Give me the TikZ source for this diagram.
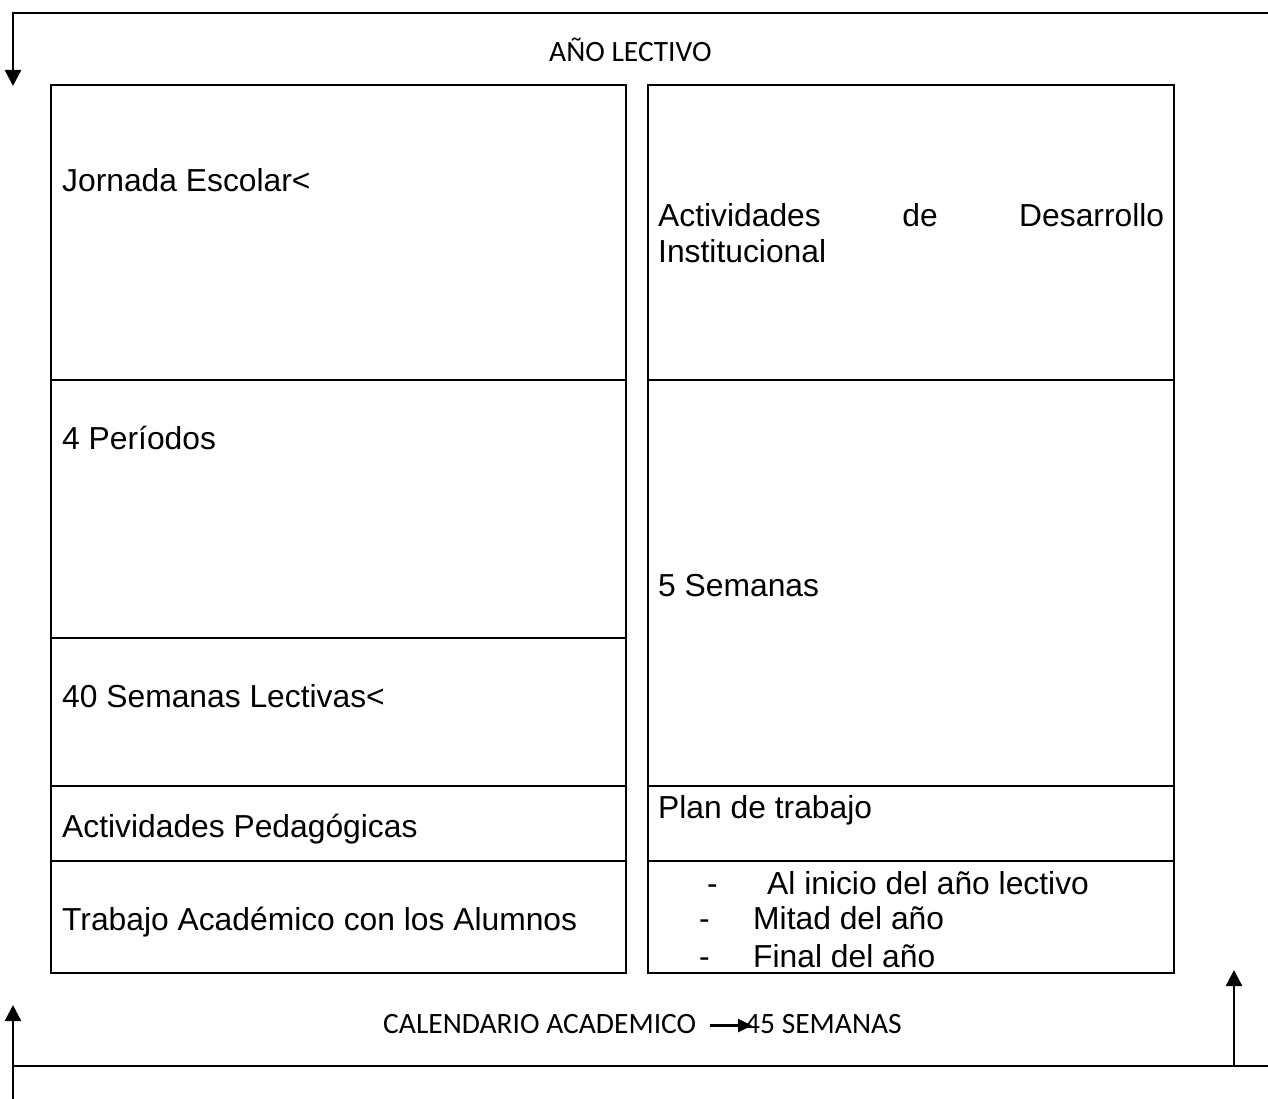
\documentclass[tikz,border=0pt]{standalone}
\usepackage{fontspec}
\setmainfont{Liberation Sans}
\newfontfamily\calib{Carlito}
\usetikzlibrary{arrows.meta}
\tikzset{
  cell/.style={draw=black, line width=2pt, minimum width=#1, inner sep=0pt, outer sep=0pt},
  boxtxt/.style={anchor=base west, inner sep=0pt, font=\fontsize{31.8}{36}\selectfont},
  captxt/.style={anchor=base west, inner sep=0pt, font=\calib\fontsize{29.5}{33}\selectfont},
  conn/.style={line width=2.4pt, draw=black},
  arr/.style={conn, -{Triangle[width=16pt,length=16pt]}},
  smallarr/.style={conn, -{Triangle[width=13pt,length=14pt]}}
}
\begin{document}
\begin{tikzpicture}[x=1pt,y=-1pt]
\useasboundingbox (0,0) rectangle (1268,1099);
% left column cells
\node[cell=575pt, minimum height=295pt, anchor=north west] (l1) at (51,85) {};
\node[cell=575pt, minimum height=258pt, anchor=north west] (l2) at (51,380) {};
\node[cell=575pt, minimum height=148pt, anchor=north west] (l3) at (51,638) {};
\node[cell=575pt, minimum height=75pt, anchor=north west] (l4) at (51,786) {};
\node[cell=575pt, minimum height=112pt, anchor=north west] (l5) at (51,861) {};
% right column cells
\node[cell=526pt, minimum height=295pt, anchor=north west] (r1) at (648,85) {};
\node[cell=526pt, minimum height=406pt, anchor=north west] (r2) at (648,380) {};
\node[cell=526pt, minimum height=75pt, anchor=north west] (r3) at (648,786) {};
\node[cell=526pt, minimum height=112pt, anchor=north west] (r4) at (648,861) {};
% texts
\node[boxtxt] (t1) at (62,192) {Jornada Escolar<};
\node[boxtxt] (t2) at (62,449) {4 Períodos};
\node[boxtxt] (t3) at (62,707) {40 Semanas Lectivas<};
\node[boxtxt] (t4) at (62,837) {Actividades Pedagógicas};
\node[boxtxt] (t5) at (62,930) {Trabajo Académico con los Alumnos};
\node[boxtxt] (u1a) at (658,227) {\makebox[506pt][s]{Actividades\hfill de\hfill Desarrollo}};
\node[boxtxt] (u1b) at (658,262) {Institucional};
\node[boxtxt] (u2) at (658,596) {5 Semanas};
\node[boxtxt] (u3) at (658,818) {Plan de trabajo};
\node[boxtxt] (d1) at (707,894) {-};
\node[boxtxt] (b1) at (767,894) {Al inicio del año lectivo};
\node[boxtxt] (d2) at (699,929) {-};
\node[boxtxt] (b2) at (753,929) {Mitad del año};
\node[boxtxt] (d3) at (699,967) {-};
\node[boxtxt] (b3) at (753,967) {Final del año};
% captions
\node[captxt] (ano) at (549,62) {AÑO LECTIVO};
\node[captxt] (cal) at (383,1033) {CALENDARIO ACADEMICO};
\node[captxt] (sem) at (745,1033) {45 SEMANAS};
\draw[smallarr] ([xshift=14pt,yshift=-2pt]cal.east) -- ([xshift=7pt,yshift=-2pt]sem.west);
% frame connectors
\coordinate (tr) at (1268,13);
\coordinate (tl) at (13,13);
\coordinate (tlend) at (13,86);
\draw[arr] (tr) -- (tl) -- (tlend);
\coordinate (bl) at (13,1099);
\coordinate (blend) at (13,1005);
\draw[arr] (bl) -- (blend);
\coordinate (bll) at (13,1066);
\coordinate (brr) at (1268,1066);
\draw[conn] (bll) -- (brr);
\coordinate (rb) at (1234,1066);
\coordinate (rt) at (1234,970);
\draw[arr] (rb) -- (rt);
\end{tikzpicture}
\end{document}
